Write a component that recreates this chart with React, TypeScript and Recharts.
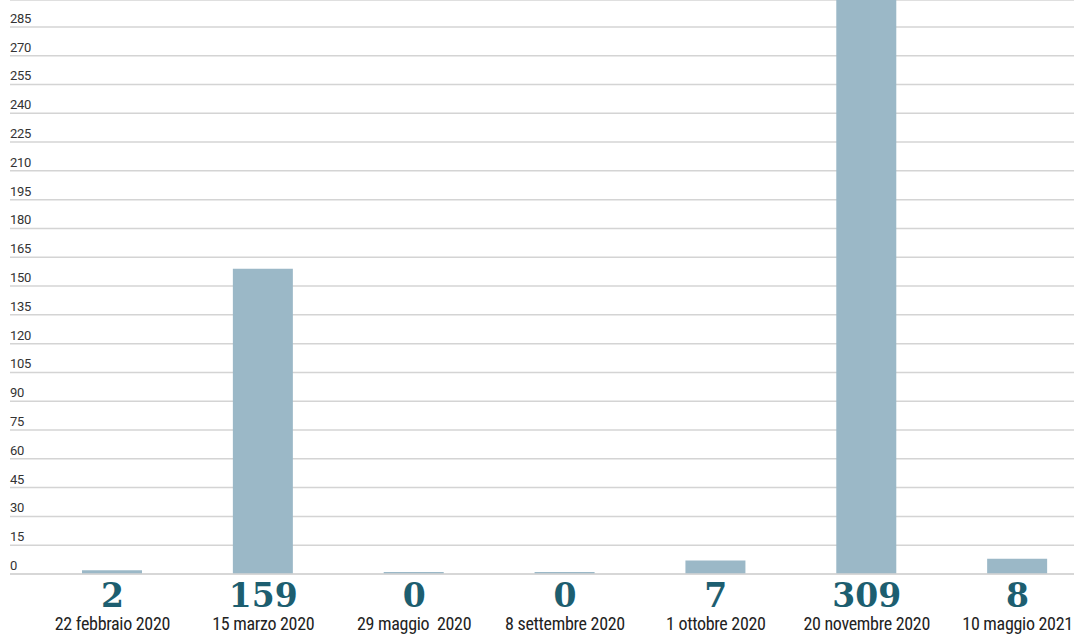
import React from "react";
import { BarChart, Bar, XAxis, YAxis, CartesianGrid } from "recharts";

const categories = [
  "22 febbraio 2020",
  "15 marzo 2020",
  "29 maggio  2020",
  "8 settembre 2020",
  "1 ottobre 2020",
  "20 novembre 2020",
  "10 maggio 2021",
];
const values = [2, 159, 0, 0, 7, 309, 8];
const yTicks = [0, 15, 30, 45, 60, 75, 90, 105, 120, 135, 150, 165, 180, 195, 210, 225, 240, 255, 270, 285];

const data = categories.map((c, i) => ({ name: c, value: values[i] }));

const BAR = "#9bb8c7";
const NUM = "#1d5e70";

const XTick = (props: any) => {
  const { x, y, payload, index } = props;
  const v = values[index];
  return (
    <g>
      <text
        x={x}
        y={y + 25}
        textAnchor="middle"
        fill={NUM}
        fontFamily="'DejaVu Serif', serif"
        fontWeight="bold"
        fontSize={33}
      >
        {v}
      </text>
      <text
        x={x}
        y={y + 48}
        textAnchor="middle"
        fill="#222"
        fontFamily="'Liberation Sans Narrow', 'Roboto Condensed', Roboto, sans-serif"
        fontSize={18}
        letterSpacing={-0.3}
        style={{ whiteSpace: "pre" }}
      >
        {payload.value}
      </text>
    </g>
  );
};

const YTick = (props: any) => {
  const { y, payload } = props;
  return (
    <text
      x={10}
      y={y - 4}
      textAnchor="start"
      fill="#333"
      fontFamily="Roboto, sans-serif"
      fontSize={13}
      letterSpacing={-0.3}
    >
      {payload.value}
    </text>
  );
};

export default function App() {
  return (
    <div style={{ position: "absolute", top: 0, left: 0, width: 1074, height: 635, overflow: "hidden", background: "#fff" }}>
      <BarChart
        width={1100}
        height={635}
        data={data}
        margin={{ top: 0, right: 0, bottom: 0, left: 0 }}
      >
        <CartesianGrid vertical={false} stroke="#d4d4d4" strokeWidth={1.5} />
        <YAxis
          domain={[0, 299]}
          ticks={yTicks}
          allowDataOverflow
          width={10}
          axisLine={false}
          tickLine={false}
          tick={<YTick />}
          interval={0}
        />
        <XAxis
          dataKey="name"
          height={61}
          padding={{ left: 27, right: 7 }}
          axisLine={{ stroke: "#d4d4d4", strokeWidth: 1.5 }}
          tickLine={false}
          tick={<XTick />}
          interval={0}
        />
        <Bar dataKey="value" fill={BAR} barSize={60} minPointSize={2} isAnimationActive={false} />
      </BarChart>
    </div>
  );
}
